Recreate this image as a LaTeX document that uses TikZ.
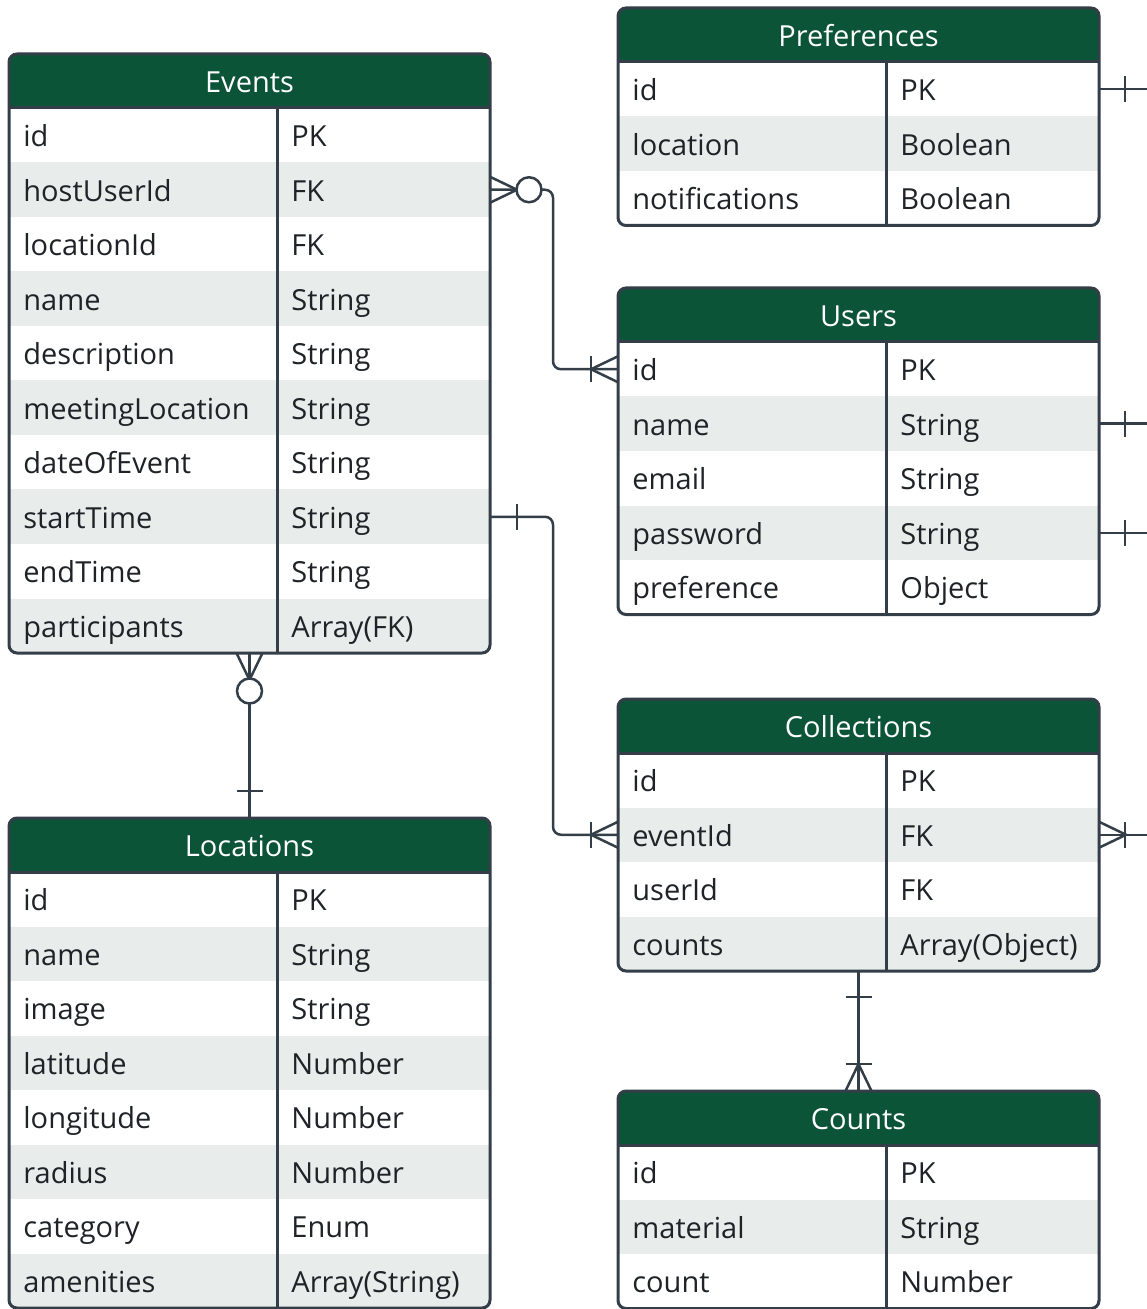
\documentclass[tikz,border=0pt]{standalone}
\usepackage{fontspec}
\setmainfont{Open Sans}
\usetikzlibrary{calc, positioning}
\definecolor{erGreen}{HTML}{0B5438}
\definecolor{erLine}{HTML}{333E48}
\definecolor{erShade}{HTML}{E8ECEA}
\definecolor{erText}{HTML}{1F2328}

\tikzset{
  erline/.style={draw=erLine, line width=1.5pt},
  erconn/.style={draw=erLine, line width=1.25pt},
  erhead/.style={anchor=north west, fill=erGreen, minimum width=240.5pt, minimum height=27pt,
    inner sep=0pt, outer sep=0pt, text=white, text height=13pt, text depth=1.5pt,
    font=\fontsize{14.5}{16}\selectfont},
  errow/.style={anchor=north west, minimum width=240.5pt, minimum height=27.25pt,
    inner sep=0pt, outer sep=0pt},
  erfield/.style={anchor=west, inner sep=0pt, text=erText, text height=13pt, text depth=1.5pt,
    font=\fontsize{14.5}{16}\selectfont},
  onebar/.pic={\draw[erconn] (0,-13) -- (0,13);},
  manyfoot/.pic={\draw[erconn] (0,-13) -- (27,0) -- (0,13);},
  zeroring/.pic={\draw[erconn, fill=white] (0,0) circle (6.25pt);},
}

% #1 name, (#2,#3) top left, #4 title, #5 rows, #6 field/type list
\newcommand{\ertable}[6]{%
  \begin{scope}
    \clip[rounded corners=4pt] (#2,#3) rectangle ++(481,{54+#5*54.5});
    \node[erhead] (#1) at (#2,#3) {#4};
    \foreach \fld/\typ [count=\i] in {#6} {
      \ifodd\i \def\rowfill{white}\else \def\rowfill{erShade}\fi
      \node[errow, fill=\rowfill] (#1-\i) at (#2,{#3+54+(\i-1)*54.5}) {};
      \node[erfield] (#1-\i-name) at ([xshift=7pt]#1-\i.west) {\fld};
      \node[erfield] (#1-\i-type) at ([xshift=141pt]#1-\i.west) {\typ};
    }
  \end{scope}
  \draw[erline] (#1.south west) -- (#1.south east);
  \draw[erline] ([xshift=134pt]#1.south west) -- ([xshift=134pt]#1-#5.south west);
  \draw[erline, rounded corners=4pt] (#2,#3) rectangle ++(481,{54+#5*54.5});
}

\begin{document}
\begin{tikzpicture}[x=0.5pt, y=-0.5pt]
  \useasboundingbox (0,0) rectangle (1146,1309);

  %-------------------------------------------------------------------------------
  % tables
  %-------------------------------------------------------------------------------
  \ertable{events}{9}{54}{Events}{10}{id/PK, hostUserId/FK, locationId/FK,
    name/String, description/String, meetingLocation/String, dateOfEvent/String,
    startTime/String, endTime/String, participants/Array(FK)}
  \ertable{locations}{9}{818}{Locations}{8}{id/PK, name/String, image/String,
    latitude/Number, longitude/Number, radius/Number, category/Enum,
    amenities/Array(String)}
  \ertable{preferences}{618}{8}{Preferences}{3}{id/PK, location/Boolean,
    notifications/Boolean}
  \ertable{users}{618}{288}{Users}{5}{id/PK, name/String, email/String,
    password/String, preference/Object}
  \ertable{collections}{618}{699}{Collections}{4}{id/PK, eventId/FK, userId/FK,
    counts/Array(Object)}
  \ertable{counts}{618}{1091}{Counts}{3}{id/PK, material/String, count/Number}

  %-------------------------------------------------------------------------------
  % relations
  %-------------------------------------------------------------------------------
  % events -- users
  \draw[erconn, rounded corners=4pt] (events-2.east) -- ++(63,0) |- (users-1.west);
  \pic at (events-2.east) {manyfoot};
  \path (events-2.east) ++(39,0) pic {zeroring};
  \pic[rotate=180] at (users-1.west) {manyfoot};
  \path (users-1.west) ++(-27,0) pic {onebar};

  % events -- collections
  \draw[erconn, rounded corners=4pt] (events-8.east) -- ++(63,0) |- (collections-2.west);
  \path (events-8.east) ++(27,0) pic {onebar};
  \pic[rotate=180] at (collections-2.west) {manyfoot};
  \path (collections-2.west) ++(-27,0) pic {onebar};

  % events -- locations
  \draw[erconn] (events-10.south) -- (locations.north);
  \pic[rotate=-90] at (events-10.south) {manyfoot};
  \path (events-10.south) ++(0,38) pic {zeroring};
  \path (locations.north) ++(0,-27) pic[rotate=90] {onebar};

  % collections -- counts
  \draw[erconn] (collections-4.south) -- (counts.north);
  \path (collections-4.south) ++(0,26) pic[rotate=90] {onebar};
  \pic[rotate=90] at (counts.north) {manyfoot};
  \path (counts.north) ++(0,-27) pic[rotate=90] {onebar};

  % off to the right
  \draw[erconn] (preferences-1.east) -- ++(52,0) coordinate (prefs-off);
  \path (preferences-1.east) ++(26,0) pic {onebar};
  \draw[erconn] (users-2.east) -- ++(52,0) coordinate (users-off-a);
  \path (users-2.east) ++(26,0) pic {onebar};
  \draw[erconn] (users-4.east) -- ++(52,0) coordinate (users-off-b);
  \path (users-4.east) ++(26,0) pic {onebar};
  \draw[erconn] (collections-2.east) -- ++(52,0) coordinate (coll-off);
  \pic at (collections-2.east) {manyfoot};
  \path (collections-2.east) ++(26,0) pic {onebar};
\end{tikzpicture}
\end{document}
